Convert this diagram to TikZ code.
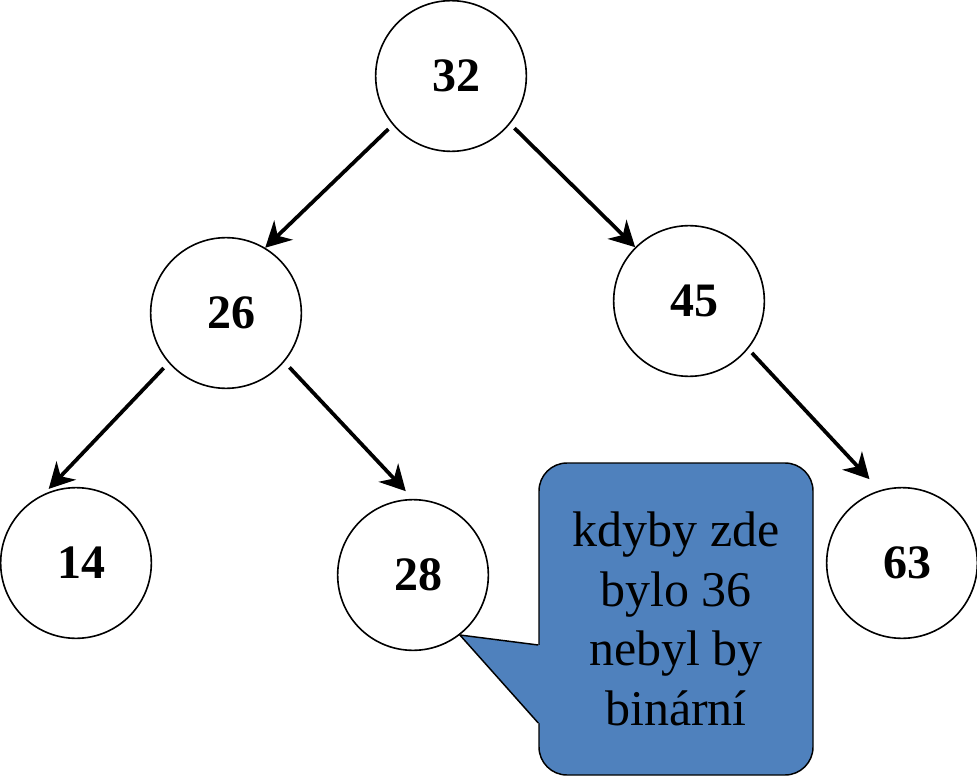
\documentclass[tikz,border=0pt]{standalone}
\usepackage{fontspec}
\setmainfont{Liberation Serif}
\usepackage{tikz}
\usetikzlibrary{arrows.meta}
\definecolor{noteblue}{HTML}{4F81BD}

\begin{document}
\begin{tikzpicture}[x=0.75pt, y=-0.75pt,
    key/.style={draw, circle, line width=1.2pt, minimum size=113pt, inner sep=0pt,
      font=\fontsize{36}{43}\selectfont\bfseries, execute at begin node={\hspace*{7.5pt}}},
    edge/.style={line width=2.8pt, -{Stealth[length=19pt, width=20pt, inset=6pt]}},
    notebox/.style={draw, line width=1.1pt, fill=noteblue, rounded corners=21pt,
      minimum width=205.5pt, minimum height=234pt, align=center,
      font=\fontsize{37.5}{44.8}\selectfont}]
  \useasboundingbox (0,0) rectangle (977,777);
  % the tree
  \node[key] (n32) at (451,76) {32};
  \node[key] (n26) at (226,313) {26};
  \node[key] (n45) at (689,301) {45};
  \node[key] (n14) at (76,563) {14};
  \node[key] (n28) at (413,575) {28};
  \node[key] (n63) at (902,563) {63};
  \draw[edge, shorten <=4.5pt] (n32.220) -- (n26.59);
  \draw[edge, shorten <=4.5pt] (n32.321) -- (n45.135);
  \draw[edge, shorten <=5.3pt, shorten >=5.3pt] (n26.221) -- (n14.115);
  \draw[edge, shorten <=5.6pt, shorten >=7.9pt] (n26.320) -- (n28.90);
  \draw[edge, shorten <=4.1pt, shorten >=11.3pt] (n45.321) -- (n63.107);
  % the note
  \node[notebox] (note) at (676,619) {kdyby zde\\bylo 36\\nebyl by\\binární};
  \fill[noteblue] (n28.308) -- ([yshift=-19.5pt]note.west) -- ([xshift=2pt,yshift=-19.5pt]note.west)
    -- ([xshift=2pt,yshift=-78pt]note.west) -- ([yshift=-78pt]note.west) -- cycle;
  \draw[line width=1.1pt] ([yshift=-19.5pt]note.west) -- (n28.308) -- ([yshift=-78pt]note.west);
\end{tikzpicture}
\end{document}
